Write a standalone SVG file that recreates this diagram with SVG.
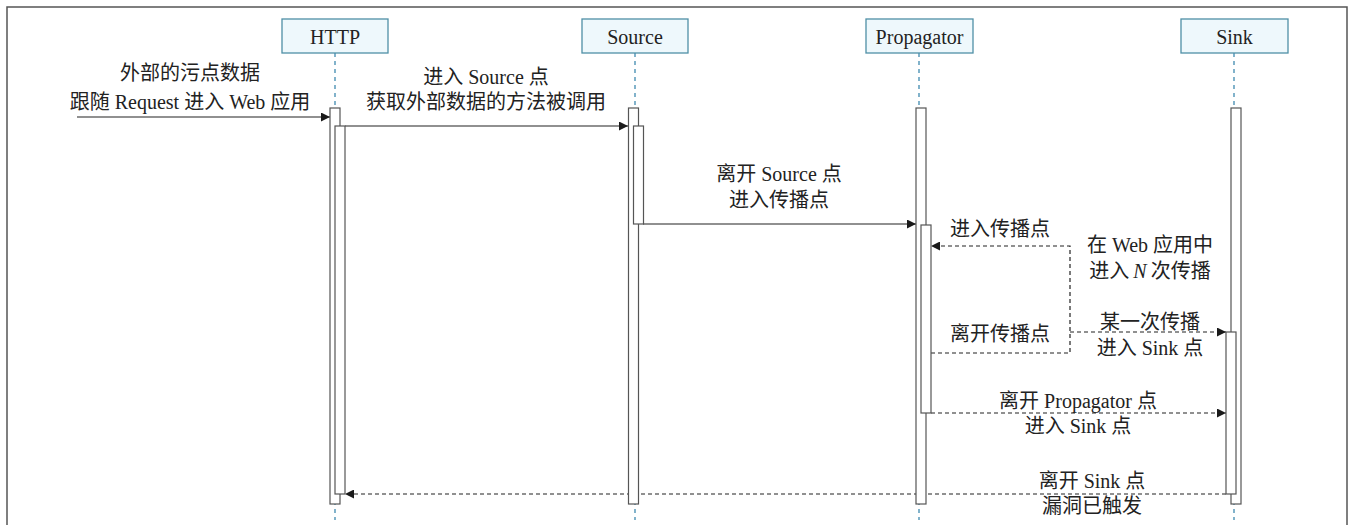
<svg xmlns="http://www.w3.org/2000/svg" width="1352" height="525" viewBox="0 0 1352 525">
<defs>
<marker id="arr" viewBox="0 0 10 10" refX="10" refY="5" markerWidth="10" markerHeight="9" markerUnits="userSpaceOnUse" orient="auto">
<path d="M0,0 L10,5 L0,10 z" fill="#1a1a1a"/>
</marker>
<style>
.frame{fill:#fff;stroke:#555;stroke-width:1.5}
.head{fill:#eef8fc;stroke:#4f8fa6;stroke-width:1.3}
.life{stroke:#3f8ab0;stroke-width:1.3;stroke-dasharray:4,4;fill:none}
.bar{fill:#fff;stroke:#555;stroke-width:1.2}
.msg{stroke:#222;stroke-width:1.2;fill:none}
.dash{stroke:#222;stroke-width:1.2;fill:none;stroke-dasharray:4,3}
text{font-family:"Liberation Serif","Noto Sans CJK SC",serif;font-size:20px;fill:#222;text-anchor:middle;dominant-baseline:central}
</style>
</defs>
<rect class="frame" x="7" y="7" width="1340" height="530"/>
<g id="connectors">
<g id="m1">
<line class="msg" x1="77" y1="117" x2="330" y2="117" marker-end="url(#arr)"/>
<text x="190" y="73">外部的污点数据</text>
<text x="190" y="102">跟随<tspan dx="5">Request</tspan><tspan dx="5">进入</tspan><tspan dx="5">Web</tspan><tspan dx="5">应用</tspan></text>
</g>
<g id="m2">
<line class="msg" x1="345" y1="126" x2="628" y2="126" marker-end="url(#arr)"/>
<text x="486" y="77">进入<tspan dx="5">Source</tspan><tspan dx="5">点</tspan></text>
<text x="486" y="102">获取外部数据的方法被调用</text>
</g>
<g id="m3">
<line class="msg" x1="643" y1="224" x2="916" y2="224" marker-end="url(#arr)"/>
<text x="779" y="174">离开<tspan dx="5">Source</tspan><tspan dx="5">点</tspan></text>
<text x="779" y="200">进入传播点</text>
</g>
<g id="m4">
<path class="dash" d="M931,353 H1070 V246 H931" marker-end="url(#arr)"/>
<text x="1000" y="229">进入传播点</text>
<text x="1000" y="334">离开传播点</text>
<text x="1150" y="245">在<tspan dx="5">Web</tspan><tspan dx="5">应用中</tspan></text>
<text x="1150" y="271">进入<tspan font-style="italic" dx="4">N</tspan><tspan dx="4">次传播</tspan></text>
</g>
<g id="m5">
<line class="dash" x1="1070" y1="332" x2="1226" y2="332" marker-end="url(#arr)"/>
<text x="1150" y="322">某一次传播</text>
<text x="1150" y="348">进入<tspan dx="5">Sink</tspan><tspan dx="5">点</tspan></text>
</g>
<g id="m6">
<line class="dash" x1="931" y1="413" x2="1226" y2="413" marker-end="url(#arr)"/>
<text x="1078" y="401">离开<tspan dx="5">Propagator</tspan><tspan dx="5">点</tspan></text>
<text x="1078" y="426">进入<tspan dx="5">Sink</tspan><tspan dx="5">点</tspan></text>
</g>
<g id="m7">
<line class="dash" x1="1226" y1="494" x2="345" y2="494" marker-end="url(#arr)"/>
<text x="1092" y="481">离开<tspan dx="5">Sink</tspan><tspan dx="5">点</tspan></text>
<text x="1092" y="506">漏洞已触发</text>
</g>
</g>
<g id="http">
<line class="life" x1="335" y1="53" x2="335" y2="520"/>
<rect class="head" x="282" y="19" width="106" height="34"/>
<text x="335" y="37">HTTP</text>
<rect class="bar" x="330" y="108" width="10" height="396"/>
<rect class="bar" x="335" y="126" width="10" height="368"/>
</g>
<g id="source">
<line class="life" x1="635" y1="53" x2="635" y2="520"/>
<rect class="head" x="582" y="19" width="106" height="34"/>
<text x="635" y="37">Source</text>
<rect class="bar" x="628.5" y="108" width="10" height="396"/>
<rect class="bar" x="633.5" y="126" width="10" height="98"/>
</g>
<g id="propagator">
<line class="life" x1="919" y1="53" x2="919" y2="520"/>
<rect class="head" x="866" y="19" width="107" height="34"/>
<text x="919.5" y="37">Propagator</text>
<rect class="bar" x="916" y="108" width="10" height="396"/>
<rect class="bar" x="921" y="225" width="10" height="188"/>
</g>
<g id="sink">
<line class="life" x1="1234" y1="53" x2="1234" y2="520"/>
<rect class="head" x="1181" y="19" width="107" height="34"/>
<text x="1234.5" y="37">Sink</text>
<rect class="bar" x="1231" y="108" width="10" height="396"/>
<rect class="bar" x="1226" y="332" width="10" height="162"/>
</g>
</svg>
